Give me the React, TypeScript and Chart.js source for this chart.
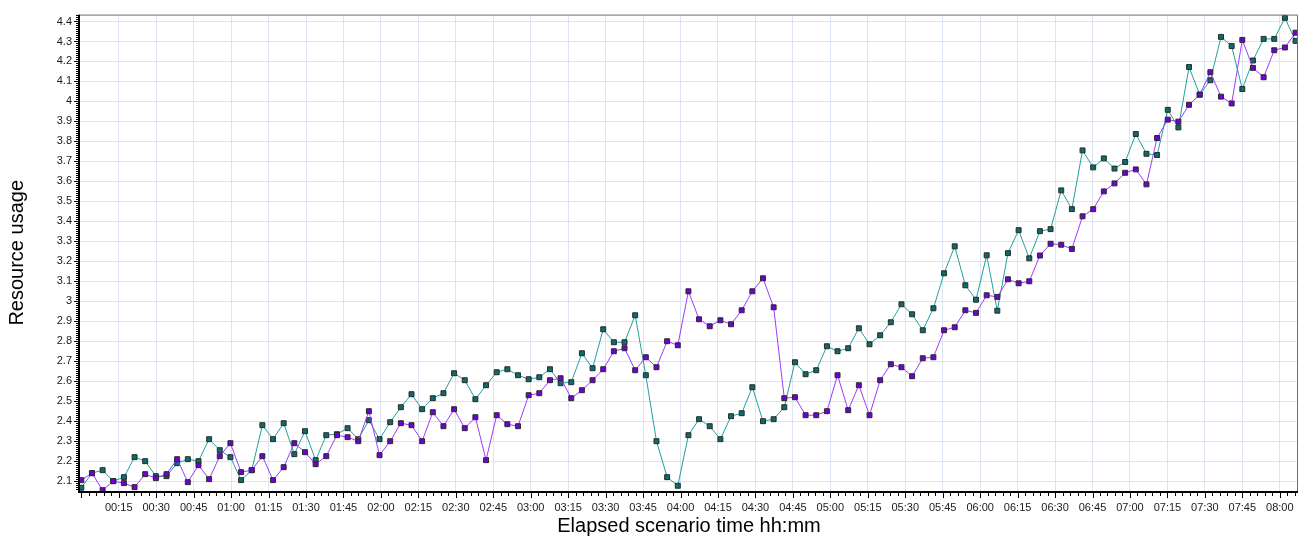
import React, { useEffect, useRef } from 'react';
import { Chart, registerables } from 'chart.js';

Chart.register(...registerables);

// Sampling clock of the scenario (minutes between two samples)
const SAMPLE_INTERVAL_MIN = 4.266;

// Teal series
const tealSeries = [
  2.067, 2.14, 2.155, 2.1, 2.12, 2.22, 2.2, 2.125, 2.125, 2.19,
  2.21, 2.2, 2.31, 2.255, 2.22, 2.105, 2.155, 2.38, 2.31, 2.39,
  2.235, 2.35, 2.205, 2.33, 2.335, 2.365, 2.31, 2.405, 2.31, 2.395,
  2.47, 2.535, 2.46, 2.515, 2.54, 2.64, 2.605, 2.51, 2.58, 2.645,
  2.66, 2.63, 2.61, 2.62, 2.66, 2.59, 2.595, 2.74, 2.665, 2.86,
  2.795, 2.795, 2.93, 2.63, 2.3, 2.12, 2.077, 2.33, 2.41, 2.375,
  2.31, 2.425, 2.44, 2.57, 2.4, 2.41, 2.47, 2.695, 2.635, 2.655,
  2.775, 2.75, 2.765, 2.865, 2.785, 2.83, 2.895, 2.985, 2.935, 2.855,
  2.965, 3.14, 3.275, 3.08, 3.008, 3.23, 2.953, 3.241, 3.356, 3.215,
  3.351, 3.361, 3.555, 3.461, 3.755, 3.67, 3.715, 3.664, 3.697, 3.837,
  3.738, 3.732, 3.958, 3.87, 4.172, 4.034, 4.106, 4.323, 4.277, 4.062,
  4.205, 4.313, 4.313, 4.418, 4.303,
];

// Purple series
const purpleSeries = [
  2.105, 2.14, 2.055, 2.1, 2.09, 2.07, 2.135, 2.115, 2.135, 2.21,
  2.095, 2.18, 2.11, 2.225, 2.29, 2.145, 2.155, 2.225, 2.105, 2.17,
  2.29, 2.245, 2.185, 2.225, 2.33, 2.32, 2.3, 2.45, 2.23, 2.3,
  2.39, 2.38, 2.3, 2.445, 2.375, 2.46, 2.365, 2.42, 2.205, 2.43,
  2.385, 2.375, 2.53, 2.54, 2.605, 2.615, 2.515, 2.555, 2.605, 2.66,
  2.75, 2.765, 2.655, 2.72, 2.67, 2.8, 2.78, 3.05, 2.91, 2.875,
  2.905, 2.885, 2.955, 3.05, 3.115, 2.97, 2.515, 2.52, 2.43, 2.43,
  2.45, 2.63, 2.455, 2.58, 2.43, 2.605, 2.685, 2.67, 2.625, 2.715,
  2.72, 2.855, 2.87, 2.955, 2.942, 3.03, 3.022, 3.11, 3.09, 3.1,
  3.229, 3.288, 3.283, 3.262, 3.425, 3.461, 3.55, 3.59, 3.643, 3.66,
  3.585, 3.817, 3.909, 3.899, 3.983, 4.034, 4.146, 4.024, 3.99, 4.308,
  4.168, 4.121, 4.256, 4.27, 4.344,
];

// X tick positions (minutes) and labels
const xTickMinutes = [
  15, 30, 45, 60, 75, 90, 105, 120, 135, 150, 165, 180, 195, 210, 225, 240,
  255, 270, 285, 300, 315, 330, 345, 360, 375, 390, 405, 420, 435, 450, 465, 480,
];
const xTickLabels = [
  '00:15', '00:30', '00:45', '01:00', '01:15', '01:30', '01:45', '02:00',
  '02:15', '02:30', '02:45', '03:00', '03:15', '03:30', '03:45', '04:00',
  '04:15', '04:30', '04:45', '05:00', '05:15', '05:30', '05:45', '06:00',
  '06:15', '06:30', '06:45', '07:00', '07:15', '07:30', '07:45', '08:00',
];

// Y tick values and labels
const yTickValues = [
  2.1, 2.2, 2.3, 2.4, 2.5, 2.6, 2.7, 2.8, 2.9, 3.0, 3.1, 3.2,
  3.3, 3.4, 3.5, 3.6, 3.7, 3.8, 3.9, 4.0, 4.1, 4.2, 4.3, 4.4,
];
const yTickLabels = [
  '2.1', '2.2', '2.3', '2.4', '2.5', '2.6', '2.7', '2.8', '2.9', '3', '3.1', '3.2',
  '3.3', '3.4', '3.5', '3.6', '3.7', '3.8', '3.9', '4', '4.1', '4.2', '4.3', '4.4',
];

const X_TITLE = 'Elapsed scenario time hh:mm';
const Y_TITLE = 'Resource usage';

const FONT = '"Liberation Sans", Arial, sans-serif';

const decorPlugin = {
  id: 'decor',
  afterDraw(chart: any) {
    const { ctx, chartArea: a, scales } = chart;
    const x = scales.x;
    const y = scales.y;
    ctx.save();
    // top & right frame
    ctx.strokeStyle = '#6e6e6e';
    ctx.lineWidth = 1;
    ctx.beginPath();
    ctx.moveTo(a.left, a.top + 0.5);
    ctx.lineTo(a.right - 0.5, a.top + 0.5);
    ctx.lineTo(a.right - 0.5, a.bottom);
    ctx.stroke();
    // axis lines
    ctx.fillStyle = '#000';
    ctx.fillRect(a.left - 2, a.top, 2, a.bottom - a.top + 2);
    ctx.fillRect(a.left - 2, a.bottom, a.right - a.left + 2, 2);
    // y ticks (minor every 0.01, major every 0.1)
    for (let k = Math.ceil(y.min * 100); k <= Math.floor(y.max * 100); k++) {
      const py = Math.round(y.getPixelForValue(k / 100));
      const len = k % 10 === 0 ? 4 : 2;
      ctx.fillRect(a.left - 2 - len, py, len, 1);
    }
    // x ticks (minor every 3 min, major every 15 min)
    for (let m = 0; m <= x.max; m += 3) {
      const px = Math.round(x.getPixelForValue(m));
      const len = m % 15 === 0 ? 5 : 3;
      ctx.fillRect(px, a.bottom + 2, 1, len);
    }
    // titles
    ctx.fillStyle = '#000';
    ctx.font = `20px ${FONT}`;
    ctx.textAlign = 'center';
    ctx.textBaseline = 'middle';
    ctx.fillText(X_TITLE, (a.left + a.right) / 2, 526);
    ctx.translate(17, (a.top + a.bottom) / 2);
    ctx.rotate(-Math.PI / 2);
    ctx.fillText(Y_TITLE, 0, 0);
    ctx.restore();
  },
};

export default function App() {
  const canvasRef = useRef<HTMLCanvasElement | null>(null);

  useEffect(() => {
    if (!canvasRef.current) return;
    const times = tealSeries.map((_, i) => i * SAMPLE_INTERVAL_MIN);
    const teal = tealSeries.map((v, i) => ({ x: times[i], y: v }));
    const purple = purpleSeries.map((v, i) => ({ x: times[i], y: v }));

    const chart = new Chart(canvasRef.current, {
      type: 'line',
      data: {
        datasets: [
          {
            label: 'Purple',
            data: purple,
            borderColor: '#9b3cff',
            borderWidth: 1,
            pointStyle: 'rect',
            pointRadius: 3.5,
            pointBackgroundColor: '#6f00d6',
            pointBorderColor: '#2a2a2a',
            pointBorderWidth: 1,
            tension: 0,
            fill: false,
          },
          {
            label: 'Teal',
            data: teal,
            borderColor: '#22a09d',
            borderWidth: 1,
            pointStyle: 'rect',
            pointRadius: 3.5,
            pointBackgroundColor: '#0d6b6b',
            pointBorderColor: '#2a2a2a',
            pointBorderWidth: 1,
            tension: 0,
            fill: false,
          },
        ],
      },
      options: {
        animation: false,
        responsive: true,
        maintainAspectRatio: false,
        layout: { padding: { top: 7, right: 12, left: 0, bottom: 0 } },
        plugins: {
          legend: { display: false },
          tooltip: { enabled: false },
        },
        events: [],
        scales: {
          x: {
            type: 'linear',
            min: -0.52,
            max: 487.3,
            afterBuildTicks: (scale: any) => {
              scale.ticks = xTickMinutes.map((v) => ({ value: v }));
            },
            afterFit: (scale: any) => {
              scale.height = 51;
            },
            ticks: {
              autoSkip: false,
              maxRotation: 0,
              padding: 10,
              color: '#1a1a1a',
              font: { family: FONT, size: 11 },
              callback: (v: any) => {
                const idx = xTickMinutes.indexOf(Number(v));
                return idx >= 0 ? xTickLabels[idx] : '';
              },
            },
            grid: { color: '#dbe5f1', lineWidth: 1, drawTicks: false },
            border: { display: false },
          },
          y: {
            type: 'linear',
            min: 2.0507,
            max: 4.4345,
            afterBuildTicks: (scale: any) => {
              scale.ticks = yTickValues.map((v) => ({ value: v }));
            },
            afterFit: (scale: any) => {
              scale.width = 80;
            },
            ticks: {
              autoSkip: false,
              padding: 8,
              color: '#1a1a1a',
              font: { family: FONT, size: 11 },
              callback: (v: any) => {
                const idx = yTickValues.findIndex((t) => Math.abs(t - Number(v)) < 1e-6);
                return idx >= 0 ? yTickLabels[idx] : '';
              },
            },
            grid: { color: '#dbe5f1', lineWidth: 1, drawTicks: false },
            border: { display: false },
          },
        },
      },
      plugins: [decorPlugin],
    });

    return () => chart.destroy();
  }, []);

  return (
    <div style={{ position: 'fixed', left: 0, top: 0, width: 1310, height: 542, background: '#fff' }}>
      <canvas ref={canvasRef} />
    </div>
  );
}
